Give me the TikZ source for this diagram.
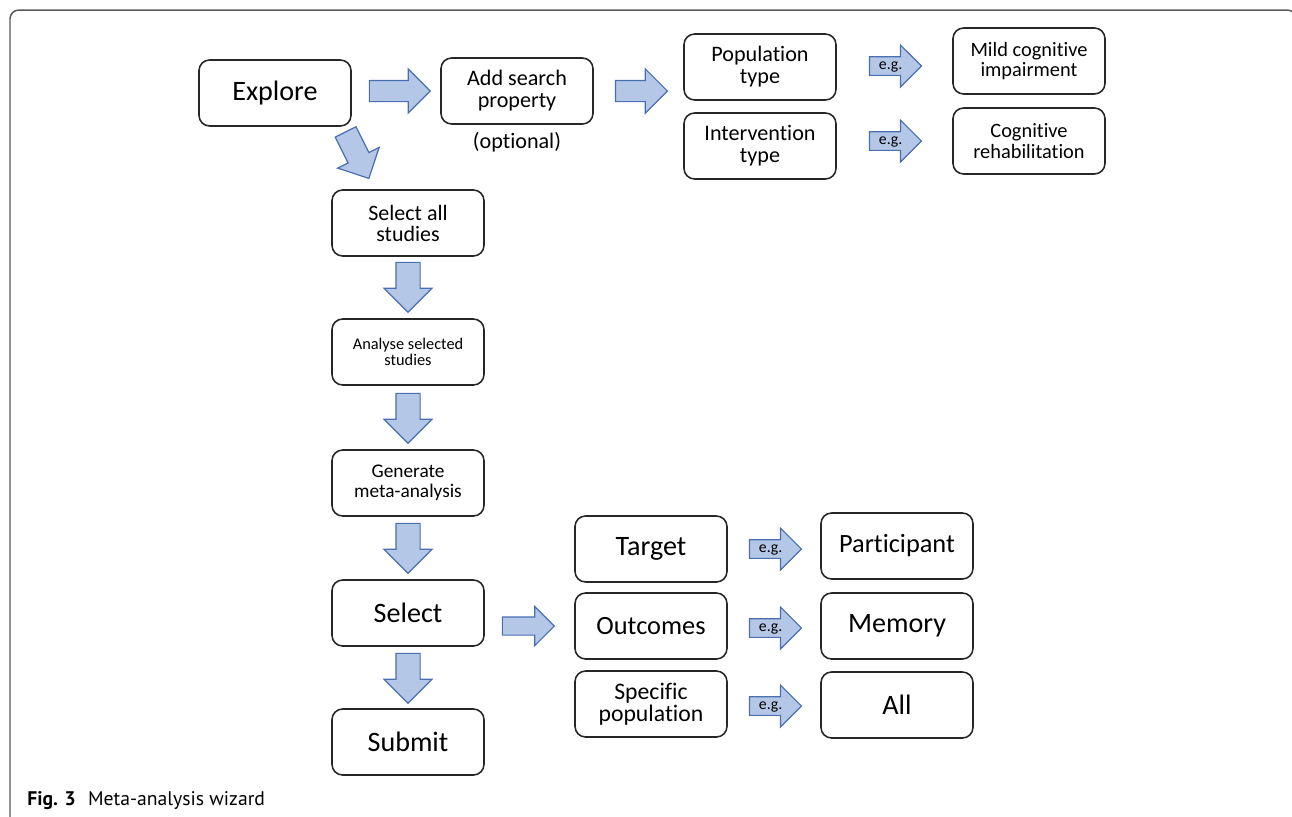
\documentclass[tikz,border=0pt]{standalone}
\usepackage{fontspec}
\setmainfont{Carlito}[Ligatures=CommonOff]
\newfontfamily\capfont{PT Sans}
\usetikzlibrary{shapes.arrows,calc}
\definecolor{arrowfill}{HTML}{B4C7E7}
\definecolor{arrowline}{HTML}{4A6FB0}

\begin{document}
\begin{tikzpicture}[x=0.02cm, y=-0.02cm,
  box/.style={draw=black!85, line width=0.9pt, rounded corners=6pt,
    minimum width=3.04cm, minimum height=1.32cm, align=center, inner sep=1pt},
  bigarrow/.style={single arrow, draw=arrowline, fill=arrowfill, line width=0.7pt,
    inner sep=0pt, minimum width=0pt, text height=0.4cm, text depth=0pt,
    single arrow head extend=0.23cm, minimum height=1.04cm},
  egarrow/.style={bigarrow, text height=0.25cm, text depth=0.1cm, inner xsep=1.5pt,
    font=\fontsize{9}{9}\selectfont},
  downarrow/.style={bigarrow, text height=0.46cm, single arrow head extend=0.24cm,
    rotate=270, minimum height=1cm}]
\useasboundingbox (0,0) rectangle (1292,816);
% frame
\draw[black!65, line width=0.85pt, rounded corners=5pt] (10,840) -- (10,10) -- (1296,10) -- (1296,60);

% boxes
\node[box, font=\fontsize{16}{19}\selectfont] (explore) at (275,93) {Explore};
\node[box, font=\fontsize{12.6}{12.6}\selectfont] (search) at (517,91) {Add search\\property};
\node[font=\fontsize{12.6}{13}\selectfont] (optional) at (517,142) {(optional)};
\node[box, font=\fontsize{12.6}{12.6}\selectfont] (poptype) at (760,67) {Population\\type};
\node[box, font=\fontsize{12.6}{12.6}\selectfont] (inttype) at (760,146) {Intervention\\type};
\node[box, font=\fontsize{11.6}{11.6}\selectfont] (mci) at (1029,61) {Mild cognitive\\impairment};
\node[box, font=\fontsize{11.6}{11.6}\selectfont] (cogrehab) at (1029,141) {Cognitive\\rehabilitation};
\node[box, font=\fontsize{12.5}{12}\selectfont] (selall) at (408,223) {Select all\\studies};
\node[box, font=\fontsize{9.3}{9.3}\selectfont] (analyse) at (408,352) {Analyse selected\\studies};
\node[box, font=\fontsize{11}{11.5}\selectfont] (generate) at (408,483) {Generate\\meta-analysis};
\node[box, font=\fontsize{16}{19}\selectfont] (select) at (408,613) {Select};
\node[box, font=\fontsize{16}{19}\selectfont] (submit) at (408,742) {Submit};
\node[box, font=\fontsize{16}{19}\selectfont] (target) at (651,549) {Target};
\node[box, font=\fontsize{15}{18}\selectfont] (outcomes) at (651,626) {Outcomes};
\node[box, font=\fontsize{13.5}{12.5}\selectfont] (specpop) at (651,704) {Specific\\population};
\node[box, font=\fontsize{15}{18}\selectfont] (particip) at (897,546) {Participant};
\node[box, font=\fontsize{16}{19}\selectfont] (memory) at (897,626) {Memory};
\node[box, font=\fontsize{16}{19}\selectfont] (all) at (897,705) {All};

% block arrows
\node[bigarrow, minimum height=1.22cm, anchor=tip] (a1) at ($(search.west)+(-9,0)$) {};
\node[bigarrow, anchor=tail] (a2) at ($(search.east)+(21,0)$) {};
\node[egarrow, anchor=tail] (eg1) at ($(poptype.east)+(32,-1)$) {e.g.};
\node[egarrow, anchor=tail] (eg2) at ($(inttype.east)+(32,-5)$) {e.g.};
\node[bigarrow, rotate=-63.4, text height=0.44cm, anchor=tip] (a3) at ($(selall.north west)+(38,-10)$) {};
\node[downarrow, anchor=tip] (d1) at ($(analyse.north)+(0,-5)$) {};
\node[downarrow, anchor=tip] (d2) at ($(generate.north)+(0,-5)$) {};
\node[downarrow, anchor=tip] (d3) at ($(select.north)+(0,-5)$) {};
\node[downarrow, anchor=tip] (d4) at ($(submit.north)+(0,-4)$) {};
\node[bigarrow, text height=0.34cm, single arrow head extend=0.21cm, anchor=tip] (a4) at ($(outcomes.west)+(-19,0)$) {};
\node[egarrow, anchor=tail] (eg3) at ($(target.east)+(21,0)$) {e.g.};
\node[egarrow, anchor=tail] (eg4) at ($(outcomes.east)+(21,2)$) {e.g.};
\node[egarrow, anchor=tail] (eg5) at ($(specpop.east)+(21,2)$) {e.g.};

% caption
\node[anchor=base west, inner sep=0pt, font=\capfont\fontsize{11.2}{13}\selectfont] (caption) at (27,805) {\textbf{Fig. 3}\hspace{7pt}Meta-analysis wizard};
\end{tikzpicture}
\end{document}
